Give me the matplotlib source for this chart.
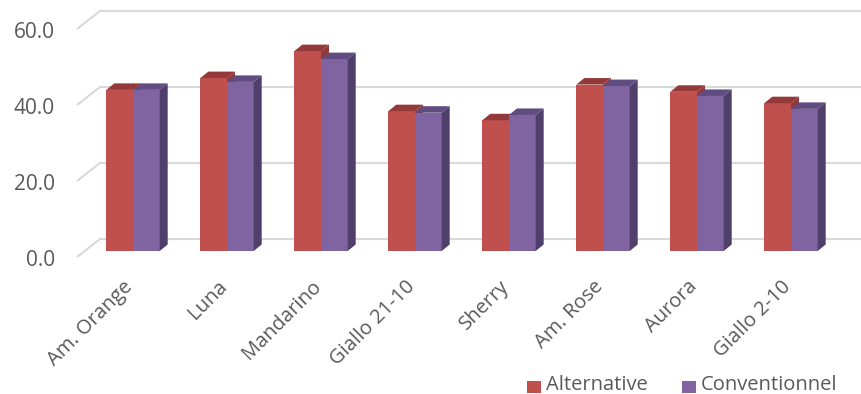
import matplotlib
matplotlib.use('Agg')
import matplotlib.pyplot as plt
from matplotlib.patches import Polygon, Rectangle

# data
categories = ['Am. Orange', 'Luna', 'Mandarino', 'Giallo 21-10', 'Sherry',
              'Am. Rose', 'Aurora', 'Giallo 2-10']
alternative = [42.4, 45.5, 52.6, 36.8, 34.4, 43.8, 41.9, 38.9]
conventionnel = [42.4, 44.5, 50.5, 36.4, 35.8, 43.4, 40.8, 37.4]
yticks = [0, 20, 40, 60]
series_names = ['Alternative', 'Conventionnel']

red, red_top = '#C0504D', '#94393A'
purple, purple_top, purple_side = '#8064A2', '#604C80', '#4F3F6A'
grid_c = '#D9D9D9'
txt_c = '#595959'
plt.rcParams['font.family'] = ['Open Sans', 'DejaVu Sans']

# pixel -> data scale (94 px per category, 3.8 px per unit)
PX = 1 / 94.0
PY = 1 / 3.8

fig = plt.figure(figsize=(8.62, 3.94), dpi=100)
ax = fig.add_axes([0, 0, 1, 1])
ax.set_xlim(-133 * PX, (862 - 133) * PX)
ax.set_ylim(-143 * PY, 251 * PY)
ax.axis('off')

# floor/back wall geometry relative to bar front plane
fx, fy = -56 * PX, -6 * PY     # front left of floor
bx, by = -33 * PX, 12 * PY     # back left of wall
for v in yticks:
    ax.plot([fx, bx], [v + fy, v + by], color=grid_c, lw=1.5, zorder=1,
            solid_capstyle='butt')
    ax.plot([bx, 10], [v + by, v + by], color=grid_c, lw=1.5, zorder=1)
    ax.text(fx - 22 * PX, v + fy - 4 * PY, '%.1f' % v, ha='right', va='center',
            fontsize=15, color=txt_c)

w = 26.7 * PX
ddx, ddy = 8 * PX, 6.5 * PY


def draw_bar(x0, h, front, top, side, z):
    ax.add_patch(Rectangle((x0, 0), w, h, facecolor=front, edgecolor='none', zorder=z))
    ax.add_patch(Polygon([(x0, h), (x0 + w, h), (x0 + w + ddx, h + ddy), (x0 + ddx, h + ddy)],
                         closed=True, facecolor=top, edgecolor='none', zorder=z))
    ax.add_patch(Polygon([(x0 + w, 0), (x0 + w + ddx, ddy), (x0 + w + ddx, h + ddy), (x0 + w, h)],
                         closed=True, facecolor=side, edgecolor='none', zorder=z))


for i, (a, c) in enumerate(zip(alternative, conventionnel)):
    draw_bar(i - w, a, red, red_top, red_top, 3)
    draw_bar(i, c, purple, purple_top, purple_side, 4)
    ax.text(i - 3 * PX, -33 * PY, categories[i], rotation=45, rotation_mode='anchor',
            ha='right', va='center', fontsize=14.5, color=txt_c)

# legend
lx = [(527 - 133) * PX, (682 - 133) * PX]
for xx, col, name in zip(lx, [red, purple], series_names):
    ax.add_patch(Rectangle((xx, (251 - 393) * PY), 13.5 * PX, 12.5 * PY,
                           facecolor=col, edgecolor='none'))
    ax.text(xx + 19 * PX, (251 - 390) * PY, name, ha='left', va='baseline',
            fontsize=14.5, color=txt_c)

fig.savefig('out.png', dpi=100)
